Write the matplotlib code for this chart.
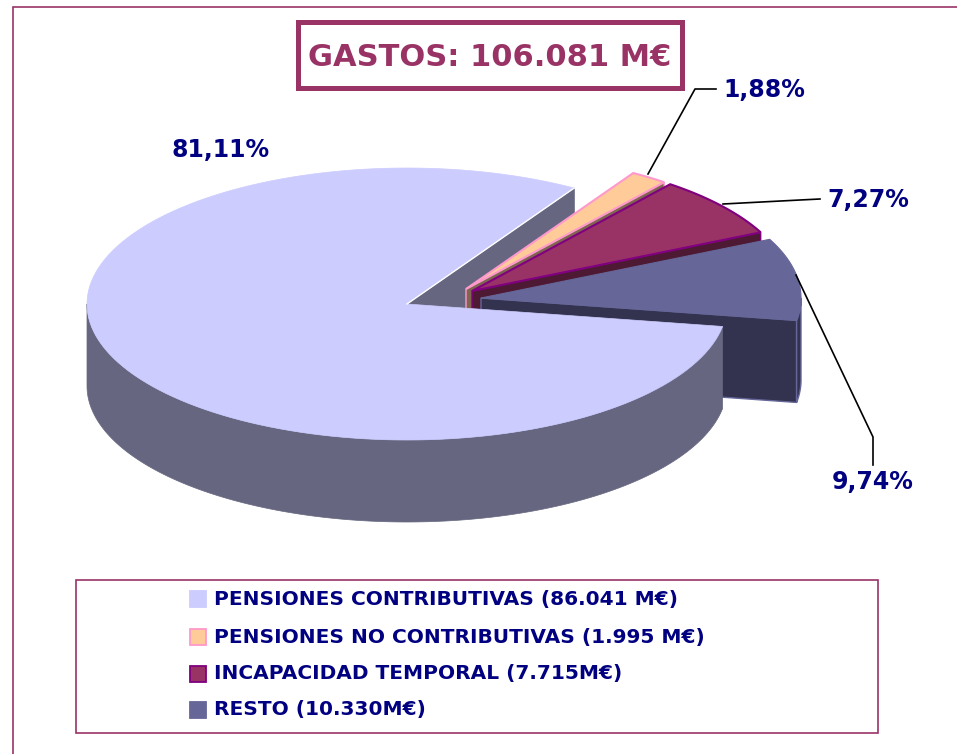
import numpy as np
import matplotlib
matplotlib.use("Agg")
import matplotlib.pyplot as plt
from matplotlib.patches import Polygon, Rectangle

plt.rcParams['font.family'] = ['DejaVu Sans']

# values
categorias = ["PENSIONES CONTRIBUTIVAS (86.041 M€)", "PENSIONES NO CONTRIBUTIVAS (1.995 M€)",
              "INCAPACIDAD TEMPORAL (7.715M€)", "RESTO (10.330M€)"]
porcentajes = [81.11, 1.88, 7.27, 9.74]
etiquetas = ["81,11%", "1,88%", "7,27%", "9,74%"]
titulo = "GASTOS: 106.081 M€"

# colours: top, edge, wall
c_top = ["#CCCCFF", "#FFCC99", "#993366", "#666699"]
c_edge = ["#CCCCFF", "#FF99CC", "#800080", "#666699"]
c_wall = ["#666680", "#806650", "#4D1933", "#333350"]
marco = "#993366"
azul = "#000080"

# pie geometry in pixels
cx, cy = 407, 304
rx, ry = 320, 136
depth = 82
start = 58.5
offsets = [(0, 0), (59, -15), (65, -13), (74, -6)]


def pt(a, off):
    a = np.radians(a)
    return np.array([cx + off[0] + rx*np.cos(a), cy + off[1] - ry*np.sin(a)])


def arc(a0, a1, off):
    return np.array([pt(a, off) for a in np.linspace(a0, a1, 150)])


def apex(off):
    return np.array([cx + off[0], cy + off[1]])


def quad(p, q, color, edge=None, lw=0.8):
    down = np.array([0, depth])
    ax.add_patch(Polygon([p, q, q + down, p + down], closed=True, fc=color, ec=edge or color, lw=lw))


fig = plt.figure(figsize=(9.57, 7.54), dpi=100)
ax = fig.add_axes([0, 0, 1, 1])
ax.set_xlim(0, 957)
ax.set_ylim(754, 0)
ax.axis("off")

# outer frame, runs off the picture on the right and bottom
ax.add_patch(Rectangle((12.5, 7), 960, 760, fc="white", ec=marco, lw=1.2))

# angles clockwise from the start of the big slice
ang = [start]
for p in porcentajes[1:]:
    ang.append(ang[-1] - p*3.6)
main_end = start + porcentajes[0]*3.6

# back wall of the big slice
quad(apex(offsets[0]), pt(start, offsets[0]), c_wall[0], "#666680")
ax.plot(*zip(apex(offsets[0]), pt(start, offsets[0])), color="white", lw=1, zorder=2)

# exploded slices, back to front
for i in [1, 2, 3]:
    off = offsets[i]
    a0, a1 = ang[i-1], ang[i]
    quad(apex(off), pt(a1, off), c_wall[i], c_edge[i], 1)
    if a1 < 0:
        r = arc(0, a1, off)
        ax.add_patch(Polygon(np.vstack([r, (r + [0, depth])[::-1]]), closed=True, fc=c_wall[i], ec=c_edge[i], lw=1))
    top = np.vstack([apex(off), arc(a0, a1, off)])
    ax.add_patch(Polygon(top, closed=True, fc=c_top[i], ec=c_edge[i], lw=1.5 if i < 3 else 0.8, joinstyle="miter"))

# big slice: wall then top
r = arc(180, main_end, offsets[0])
ax.add_patch(Polygon(np.vstack([r, (r + [0, depth])[::-1]]), closed=True, fc=c_wall[0], ec=c_wall[0], lw=0.5))
top = np.vstack([apex(offsets[0]), arc(start, main_end, offsets[0])])
ax.add_patch(Polygon(top, closed=True, fc=c_top[0], ec=c_edge[0], lw=0.5))

# leader lines
ax.plot([648, 695, 716], [174, 89, 89], color="black", lw=1.2)
ax.plot([723, 800, 820], [204, 200, 199], color="black", lw=1.2)
ax.plot([796, 873, 873], [275, 437, 465], color="black", lw=1.2)

# data labels
ax.text(220.5, 150, etiquetas[0], color=azul, fontsize=17, fontweight="bold", ha="center", va="center")
ax.text(764, 90, etiquetas[1], color=azul, fontsize=17, fontweight="bold", ha="center", va="center")
ax.text(868, 200, etiquetas[2], color=azul, fontsize=17, fontweight="bold", ha="center", va="center")
ax.text(873, 482, etiquetas[3], color=azul, fontsize=17, fontweight="bold", ha="center", va="center")

# title box
ax.add_patch(Rectangle((298, 22), 384, 66, fc="white", ec=marco, lw=3.6, zorder=5))
ax.text(490, 57, titulo, color=marco, fontsize=22, fontweight="bold", ha="center", va="center", zorder=6)

# legend
ax.add_patch(Rectangle((76, 580), 802, 153, fc="white", ec=marco, lw=1.2, zorder=5))
ys = [599, 637, 674, 710]
for i in range(4):
    ax.add_patch(Rectangle((190, ys[i] - 8), 16, 16, fc=c_top[i], ec=c_edge[i], lw=1.3, zorder=6))
    ax.text(214, ys[i], categorias[i], color=azul, fontsize=14.5, fontweight="bold", ha="left", va="center", zorder=6)

fig.savefig("out.png", dpi=100)
